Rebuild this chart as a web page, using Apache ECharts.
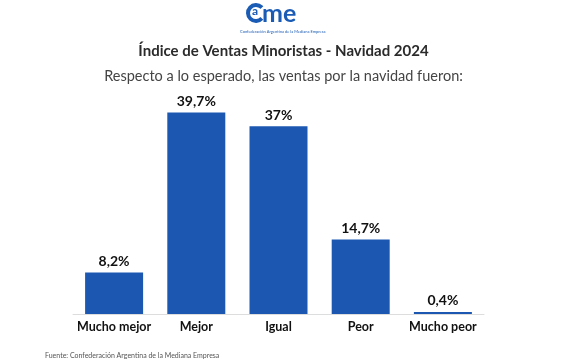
<!DOCTYPE html>
<html><head><meta charset="utf-8">
<script src="https://cdn.jsdelivr.net/npm/echarts@6/dist/echarts.min.js"></script>
<style>html,body{margin:0;padding:0;background:#fff}#c{width:567px;height:364px}</style>
</head><body><div id="c"></div>
<script>
const categories = ['Mucho mejor', 'Mejor', 'Igual', 'Peor', 'Mucho peor'];
const values = [8.2, 39.7, 37, 14.7, 0.4];
const valueLabels = ['8,2%', '39,7%', '37%', '14,7%', '0,4%'];
const titleText = 'Índice de Ventas Minoristas - Navidad 2024';
const subtitleText = 'Respecto a lo esperado, las ventas por la navidad fueron:';
const sourceText = 'Fuente: Confederación Argentina de la Mediana Empresa';

const FONT = 'Lato';
const BLUE = '#1a5cb5';
const chart = echarts.init(document.getElementById('c'), null, {renderer: 'canvas'});
chart.setOption({
  backgroundColor: '#fff',
  animation: false,
  title: [
    {text: titleText, left: 'center', top: 39, textStyle: {fontFamily: FONT, fontSize: 15, fontWeight: 'bold', color: '#2b2b2b'}},
    {text: subtitleText, left: 'center', top: 64, textStyle: {fontFamily: FONT, fontSize: 14.5, fontWeight: 'normal', color: '#444'}},
    {text: sourceText, left: 40, top: 347, textStyle: {fontFamily: FONT, fontSize: 7, fontWeight: 'normal', color: '#555'}}
  ],
  graphic: [
    {type: 'arc', shape: {cx: 256, cy: 13, r: 8, startAngle: 0.75, endAngle: Math.PI * 2 - 0.75, clockwise: true},
      style: {stroke: BLUE, lineWidth: 4, fill: 'none'}},
    {type: 'text', left: 252, top: 5, style: {text: 'a', font: 'bold 12px ' + FONT, fill: BLUE}},
    {type: 'text', left: 262, top: 1, style: {text: 'me', font: 'bold 25px ' + FONT, fill: BLUE}},
    {type: 'text', left: 240, top: 30, style: {text: 'Confederación Argentina de la Mediana Empresa', font: '4px ' + FONT, fill: BLUE}}
  ],
  grid: {left: 73, right: 83, top: 111, bottom: 50, containLabel: false},
  xAxis: {
    type: 'category', data: categories,
    axisLine: {show: true, lineStyle: {color: '#ddd', width: 1}},
    axisTick: {show: false},
    axisLabel: {interval: 0, margin: 6, fontFamily: FONT, fontSize: 12.5, fontWeight: 'bold', color: '#111'}
  },
  yAxis: {type: 'value', min: 0, max: 40, show: false, splitLine: {show: false}},
  series: [{
    type: 'bar', data: values, barWidth: 58,
    itemStyle: {color: '#1c58b2'},
    label: {show: true, position: 'top', distance: 4, fontFamily: FONT, fontSize: 14, fontWeight: 'bold', color: '#111',
      formatter: p => valueLabels[p.dataIndex]}
  }]
});
</script></body></html>
